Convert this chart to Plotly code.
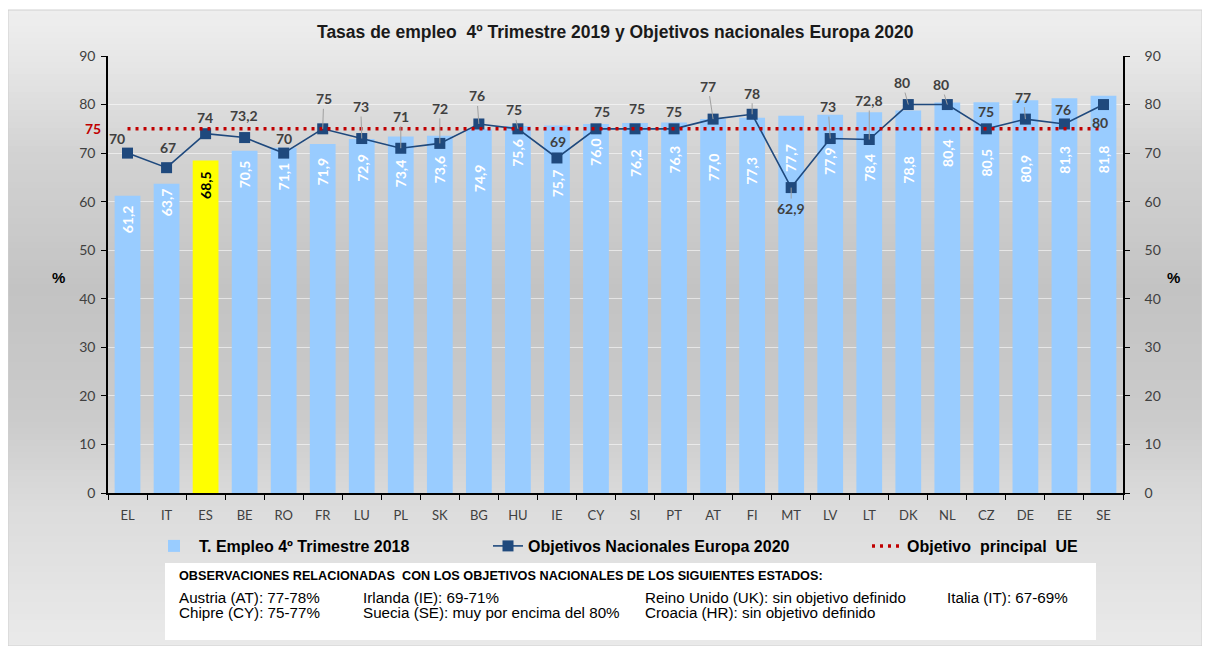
import plotly.graph_objects as go

# ---- data ----
countries = ["EL", "IT", "ES", "BE", "RO", "FR", "LU", "PL", "SK", "BG", "HU", "IE", "CY",
             "SI", "PT", "AT", "FI", "MT", "LV", "LT", "DK", "NL", "CZ", "DE", "EE", "SE"]
empleo_2018 = [61.2, 63.7, 68.5, 70.5, 71.1, 71.9, 72.9, 73.4, 73.6, 74.9, 75.6, 75.7, 76.0,
               76.2, 76.3, 77.0, 77.3, 77.7, 77.9, 78.4, 78.8, 80.4, 80.5, 80.9, 81.3, 81.8]
objetivos_2020 = [70, 67, 74, 73.2, 70, 75, 73, 71, 72, 76, 75, 69, 75,
                  75, 75, 77, 78, 62.9, 73, 72.8, 80, 80, 75, 77, 76, 80]
objetivo_ue = 75
highlight = "ES"

title_text = "Tasas de empleo  4º Trimestre 2019 y Objetivos nacionales Europa 2020"
obs_header = "OBSERVACIONES RELACIONADAS  CON LOS OBJETIVOS NACIONALES DE LOS SIGUIENTES ESTADOS:"
obs_rows = [
    ["Austria (AT): 77-78%", "Irlanda (IE): 69-71%", "Reino Unido (UK): sin objetivo definido", "Italia (IT): 67-69%"],
    ["Chipre (CY): 75-77%", "Suecia (SE): muy por encima del 80%", "Croacia (HR): sin objetivo definido", ""],
]

# label placement for the target line (pixels, screen coords) and whether a leader line is drawn
label_dx = [-11, 1, -1, -1, 0, 1, -1, 0, 0, -2, -4, 1, 6, 2, 0, -5, 0, 0, -2, 0, -6, -6, 0, -2, -1, -3]
label_dy = [-15, -20, -16, -22, -15, -30, -32, -32, -35, -28, -19, -16, -17, -20, -17, -33, -21, 21,
            -32, -39, -22, -20, -17, -22, -14, 18]
leader = [False, False, False, False, False, True, True, True, True, True, True, False, False,
          False, False, True, True, True, True, True, True, True, False, True, False, False]
# distance (px) from the bar top down to the centre of its rotated label
bar_label_drop = [24, 19, 25, 24, 29, 28, 29, 37, 34, 49, 27, 58, 28,
                  40, 37, 48, 53, 42, 46, 55, 59, 50, 60, 68, 61, 63]

# ---- geometry: page pixels (the page body has an 8px margin) ----
OFF = 8
W, H = 1202, 638
L, R, T, B = 108, 1123, 56, 493   # plot area in page pixels


def fx(px):
    return (px - L) / (R - L)


def fy(py):
    return (B - py) / (B - T)


def shade(py):
    pts = [(0, 240), (60, 231), (150, 211), (290, 195), (420, 203), (500, 219), (646, 234)]
    for (y0, c0), (y1, c1) in zip(pts[:-1], pts[1:]):
        if y0 <= py <= y1:
            return c0 + (c1 - c0) * (py - y0) / (y1 - y0)
    return pts[-1][1]


fmt = lambda v: f"{v:.1f}".replace(".", ",")
fmt_obj = lambda v: (f"{v:.1f}".replace(".", ",") if v != int(v) else str(int(v)))

bar_colors = ["#FFFF00" if c == highlight else "#99CCFF" for c in countries]
bar_text_colors = ["#000000" if c == highlight else "#FFFFFF" for c in countries]

fig = go.Figure()

fig.add_trace(go.Bar(
    x=countries, y=empleo_2018,
    name="T. Empleo 4º Trimestre 2018",
    marker=dict(color=bar_colors, line=dict(width=0)),
    width=0.66,
    legend="legend",
))

fig.add_trace(go.Scatter(
    x=countries, y=objetivos_2020,
    name="Objetivos Nacionales Europa 2020",
    mode="lines+markers",
    line=dict(color="#1F497D", width=1.6),
    marker=dict(symbol="square", size=11, color="#1F497D"),
    legend="legend2",
))

fig.add_trace(go.Scatter(
    x=countries, y=[objetivo_ue] * len(countries),
    name="Objetivo  principal  UE",
    mode="lines",
    line=dict(color="#C00000", width=3.5, dash="3px,5px"),
    yaxis="y2",
    legend="legend3",
))

# background gradient panel (built from thin bands)
shapes = []
step = 6
for py in range(OFF, OFF + H, step):
    g = int(round(shade(py + step / 2)))
    shapes.append(dict(type="rect", xref="paper", yref="paper", layer="below",
                       x0=fx(OFF), x1=fx(1202), y0=fy(min(py + step, OFF + H)), y1=fy(max(py, 10)),
                       fillcolor=f"rgb({g},{g},{g})", line=dict(width=0)))
shapes.append(dict(type="rect", xref="paper", yref="paper", layer="below",
                   x0=fx(OFF), x1=fx(1202), y0=fy(OFF + H), y1=fy(10),
                   fillcolor="rgba(0,0,0,0)", line=dict(color="#D0D0D0", width=1)))
# observations box
shapes.append(dict(type="rect", xref="paper", yref="paper", layer="above",
                   x0=fx(165), x1=fx(1096), y0=fy(640), y1=fy(563),
                   fillcolor="#FFFFFF", line=dict(width=0)))

annotations = []
# rotated value labels inside the bars
for i, (c, v) in enumerate(zip(countries, empleo_2018)):
    annotations.append(dict(x=c, y=v, xref="x", yref="y", text=fmt(v), textangle=-90,
                            showarrow=False, xanchor="center", yanchor="middle",
                            yshift=-bar_label_drop[i],
                            font=dict(family="Lato, sans-serif", size=14,
                                      color=bar_text_colors[i], weight="bold")))
# target labels
for i, (c, v) in enumerate(zip(countries, objetivos_2020)):
    a = dict(x=c, y=v, xref="x", yref="y", text=fmt_obj(v),
             font=dict(family="Lato, sans-serif", size=14, color="#404040", weight="bold"))
    if leader[i]:
        a.update(showarrow=True, ax=label_dx[i], ay=label_dy[i], arrowhead=0,
                 arrowwidth=1, arrowcolor="#A0A0A0", standoff=0)
    else:
        a.update(showarrow=False, xanchor="center", yanchor="middle",
                 xshift=label_dx[i], yshift=-label_dy[i])
    annotations.append(a)

annotations.append(dict(x=fx(93), y=objetivo_ue, xref="paper", yref="y", text="75",
                        showarrow=False, xanchor="center", yanchor="middle",
                        font=dict(family="Lato, sans-serif", size=14,
                                  color="#C00000", weight="bold")))
for xp in (58, 1173):
    annotations.append(dict(x=fx(xp), y=fy(277), xref="paper", yref="paper", text="%",
                            showarrow=False, xanchor="center", yanchor="middle",
                            font=dict(family="Liberation Sans, Arial", size=15,
                                      color="#000000", weight="bold")))
annotations.append(dict(x=fx(615), y=fy(32), xref="paper", yref="paper", text=title_text,
                        showarrow=False, xanchor="center", yanchor="middle",
                        font=dict(family="Liberation Sans, Arial", size=17.5,
                                  color="#1A1A1A", weight="bold")))
annotations.append(dict(x=fx(177), y=fy(576), xref="paper", yref="paper", text=obs_header,
                        xanchor="left", yanchor="middle", showarrow=False,
                        font=dict(family="Liberation Sans, Arial", size=12.7, color="#000000",
                                  weight="bold")))
col_x = [177, 361, 643, 945]
row_y = [597, 612]
for r, row in enumerate(obs_rows):
    for c, txt in enumerate(row):
        if txt:
            annotations.append(dict(x=fx(col_x[c]), y=fy(row_y[r]), xref="paper", yref="paper",
                                    text=txt, xanchor="left", yanchor="middle", showarrow=False,
                                    font=dict(family="Liberation Sans, Arial", size=15.2,
                                              color="#000000")))

tickfont = dict(family="Lato, sans-serif", size=14, color="#404040")
yax = dict(range=[0, 90], dtick=10, tick0=0, showline=True, linecolor="#000000", linewidth=1.5,
           ticks="outside", ticklen=5, tickcolor="#000000", tickfont=tickfont, zeroline=False,
           fixedrange=True)

legend_font = dict(family="Liberation Sans, Arial", size=16, color="#000000", weight="bold")
legend_common = dict(orientation="h", y=fy(546), yanchor="middle", xanchor="left",
                     bgcolor="rgba(0,0,0,0)", font=legend_font)

fig.update_layout(
    width=W, height=H,
    margin=dict(l=L - OFF, r=W + OFF - R, t=T - OFF, b=H + OFF - B),
    paper_bgcolor="#FFFFFF",
    plot_bgcolor="rgba(0,0,0,0)",
    xaxis=dict(type="category", showline=True, linecolor="#000000", linewidth=1.5,
               ticks="outside", ticklen=5, tickcolor="#000000", tickson="boundaries",
               tickfont=dict(family="Lato, sans-serif", size=13, color="#404040"),
               ticklabelstandoff=10,
               showgrid=False, range=[-0.5, len(countries) - 0.5]),
    yaxis=dict(**yax, showgrid=True, gridcolor="rgba(255,255,255,0.55)", gridwidth=1,
               ticklabelstandoff=3),
    yaxis2=dict(**yax, overlaying="y", side="right", showgrid=False, ticklabelstandoff=12),
    showlegend=True,
    legend=dict(**legend_common, x=fx(149), itemwidth=40),
    legend2=dict(**legend_common, x=fx(488)),
    legend3=dict(**legend_common, x=fx(867)),
    shapes=shapes,
    annotations=annotations,
)

fig.write_html("out.html")
